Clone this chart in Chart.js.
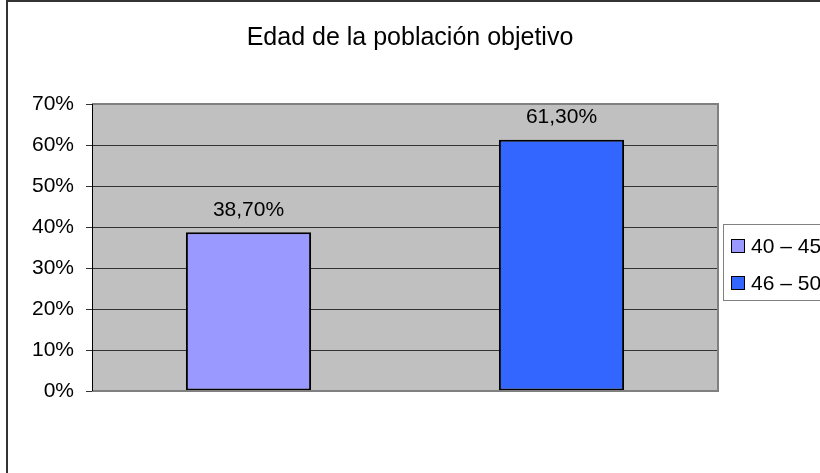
<!DOCTYPE html>
<html>
<head>
<meta charset="utf-8">
<script src="https://cdn.jsdelivr.net/npm/chart.js@4"></script>
<style>
  body { margin: 0; background: #fff; overflow: hidden; }
  #wrap { width: 820px; height: 473px; }
</style>
</head>
<body>
<div id="wrap"><canvas id="myChart" width="820" height="473"></canvas></div>
<script>
// chart data
const titleText = 'Edad de la población objetivo';
const ageGroups = ['40 – 45', '46 – 50'];
const shares = [38.7, 61.3];
const barColors = ['#9999FF', '#3366FF'];
const yTicks = [0, 10, 20, 30, 40, 50, 60, 70];

const fontName = '"Liberation Sans", Arial, sans-serif';

function pct(v) {
  return v.toFixed(2).replace('.', ',') + '%';
}

// background, frame, title, labels and legend
const excelLook = {
  id: 'excelLook',
  beforeDraw(chart) {
    const c = chart.ctx, a = chart.chartArea;
    c.save();
    c.fillStyle = '#fff';
    c.fillRect(0, 0, chart.width, chart.height);
    // outer border (left + top only visible)
    c.strokeStyle = '#333';
    c.lineWidth = 2;
    c.beginPath();
    c.moveTo(7, chart.height);
    c.lineTo(7, 1);
    c.lineTo(chart.width, 1);
    c.stroke();
    // plot area
    c.fillStyle = '#C0C0C0';
    c.fillRect(a.left, a.top, a.right - a.left, a.bottom - a.top);
    // title
    c.fillStyle = '#000';
    c.font = '25px ' + fontName;
    c.textAlign = 'center';
    c.textBaseline = 'middle';
    c.fillText(titleText, 410, 38);
    c.restore();
  },
  afterDraw(chart) {
    const c = chart.ctx, a = chart.chartArea;
    c.save();
    // plot frame top + right + bottom in grey
    c.strokeStyle = '#808080';
    c.lineWidth = 2;
    c.beginPath();
    c.moveTo(a.left, a.top);
    c.lineTo(a.right, a.top);
    c.lineTo(a.right, a.bottom);
    c.lineTo(a.left, a.bottom);
    c.stroke();
    // y axis line
    c.strokeStyle = '#000';
    c.lineWidth = 1;
    c.beginPath();
    c.moveTo(a.left + 0.5, a.top);
    c.lineTo(a.left + 0.5, a.bottom);
    c.stroke();
    // value labels
    const meta = chart.getDatasetMeta(0);
    c.fillStyle = '#000';
    c.font = '21px ' + fontName;
    c.textAlign = 'center';
    c.textBaseline = 'middle';
    meta.data.forEach((bar, i) => {
      c.fillText(pct(shares[i]), bar.x, bar.y - 22);
    });
    // legend (cut off at the right edge like the original)
    c.strokeStyle = '#808080';
    c.lineWidth = 1;
    c.fillStyle = '#fff';
    c.fillRect(723.5, 224.5, 150, 76);
    c.strokeRect(723.5, 224.5, 150, 76);
    c.textAlign = 'left';
    ageGroups.forEach((g, i) => {
      const y = 246 + i * 37;
      c.fillStyle = barColors[i];
      c.fillRect(731.5, y - 6.5, 13, 13);
      c.strokeStyle = '#000';
      c.strokeRect(731.5, y - 6.5, 13, 13);
      c.fillStyle = '#000';
      c.fillText(g, 751, y + 1);
    });
    c.restore();
  }
};

new Chart(document.getElementById('myChart'), {
  type: 'bar',
  data: {
    labels: ageGroups,
    datasets: [{
      data: shares,
      backgroundColor: barColors,
      borderColor: '#000',
      borderWidth: 2,
      borderSkipped: false,
      barPercentage: 0.4,
      categoryPercentage: 1
    }]
  },
  options: {
    responsive: false,
    animation: false,
    layout: { padding: { left: 7, top: 104, right: 102, bottom: 82 } },
    plugins: {
      legend: { display: false },
      title: { display: false },
      tooltip: { enabled: false }
    },
    scales: {
      x: { display: false },
      y: {
        min: 0,
        max: 70,
        afterBuildTicks(axis) {
          axis.ticks = yTicks.map(v => ({ value: v }));
        },
        afterFit(axis) { axis.width = 85; },
        grid: {
          color: '#333',
          lineWidth: 1,
          tickLength: 6,
          drawTicks: true
        },
        border: { display: false },
        ticks: {
          padding: 12,
          color: '#000',
          font: { family: fontName, size: 21 },
          callback: v => v + '%'
        }
      }
    }
  },
  plugins: [excelLook]
});
</script>
</body>
</html>
